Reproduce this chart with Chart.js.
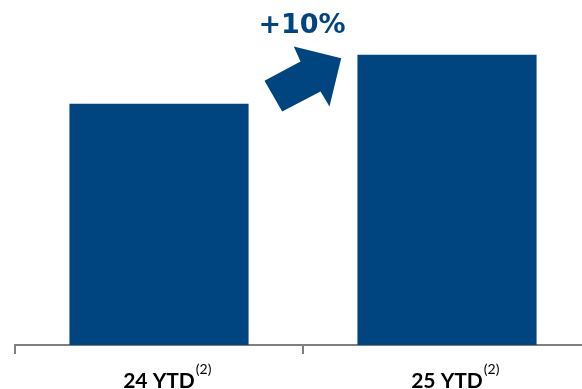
<!DOCTYPE html>
<html><head><meta charset="utf-8">
<script src="https://cdn.jsdelivr.net/npm/chart.js@4"></script>
<style>
html,body{margin:0;padding:0;background:#fff;overflow:hidden;width:582px;height:389px}
#wrap{position:absolute;left:0;top:0;width:592px;height:389px}
</style></head><body>
<div id="wrap"><canvas id="c" width="592" height="389"></canvas></div>
<script>
const categories = ["24 YTD", "25 YTD"];
const footnotes = ["(2)", "(2)"];
const values = [69.9, 84.1];
const changeLabel = "+10%";
const BLUE = "#00457f";
const GRAY = "#7f7f7f";

const overlay = {
  id: "overlay",
  afterDraw(chart) {
    const ctx = chart.ctx;
    const meta = chart.getDatasetMeta(0);
    const xs = chart.scales.x;
    ctx.save();
    ctx.font = "bold 21px Lato";
    const mainWidths = categories.map(c => ctx.measureText(c).width);
    ctx.font = "14px Lato";
    ctx.fillStyle = "#000";
    ctx.textBaseline = "top";
    ctx.textAlign = "left";
    categories.forEach((c, i) => {
      const cx = xs.getPixelForTick(i);
      ctx.fillText(footnotes[i], cx + mainWidths[i] / 2 + 1, 362);
    });
    ctx.restore();
    const b1 = meta.data[0], b2 = meta.data[1];
    const r1 = b1.x + b1.width / 2, l2 = b2.x - b2.width / 2;
    const gx = (r1 + l2) / 2;
    const top2 = b2.y;
    const pts = [[-38.5,26],[-2.5,6.7],[-9.2,-8.3],[38.2,3.3],[26.5,51.7],[17.5,36.7],[-20.8,56.7]];
    ctx.save();
    ctx.fillStyle = BLUE;
    ctx.beginPath();
    pts.forEach((p, i) => {
      const x = gx + p[0], y = top2 + p[1];
      if (i === 0) ctx.moveTo(x, y); else ctx.lineTo(x, y);
    });
    ctx.closePath();
    ctx.fill();
    ctx.font = "bold 27px 'DejaVu Sans'";
    ctx.textAlign = "center";
    ctx.textBaseline = "alphabetic";
    ctx.fillText(changeLabel, gx - 1, top2 - 22);
    ctx.restore();
  }
};

new Chart(document.getElementById("c"), {
  type: "bar",
  data: {
    labels: categories,
    datasets: [{ data: values, backgroundColor: BLUE, borderWidth: 0,
      categoryPercentage: 1.0, barPercentage: 0.622 }]
  },
  options: {
    responsive: false,
    animation: false,
    devicePixelRatio: 1,
    layout: { padding: { left: 15, right: 1, top: 0, bottom: 0 } },
    plugins: { legend: { display: false }, tooltip: { enabled: false } },
    scales: {
      x: {
        offset: true,
        afterFit(scale) { scale.height = 44; },
        grid: { offset: true, drawOnChartArea: false, drawTicks: true, tickLength: 9, color: GRAY, lineWidth: 2 },
        border: { display: true, color: GRAY, width: 2 },
        ticks: { color: "#000", font: { family: "Lato", size: 21, weight: "bold" }, padding: 15, maxRotation: 0 }
      },
      y: { display: false, min: 0, max: 100 }
    }
  },
  plugins: [overlay]
});
</script>
</body></html>
